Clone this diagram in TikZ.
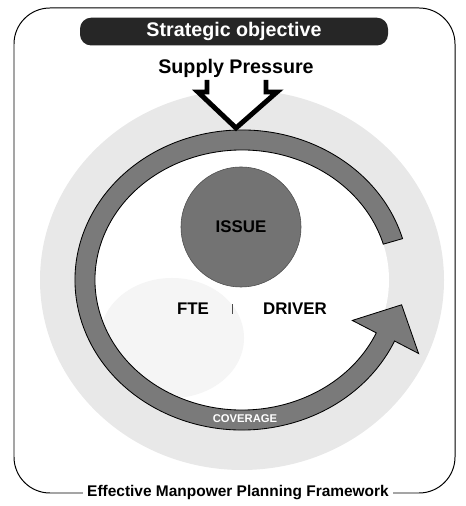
\documentclass[tikz,border=0pt]{standalone}
\usepackage{fontspec}
\setmainfont{Liberation Sans}
\usepackage{tikz}
\usetikzlibrary{positioning}

\tikzset{
	word/.style={font=\fontsize{12}{14}\selectfont\bfseries},
	bigword/.style={font=\fontsize{14}{16}\selectfont\bfseries},
	banner/.style={fill=black!85, text=white, rounded corners=0.28cm, minimum width=7.7cm, minimum height=0.58cm},
	grayband/.style={fill=black!52, draw=black, line width=0.6pt},
	halo/.style={fill=black!9},
	frameline/.style={line width=0.7pt, rounded corners=0.9cm}
}

\begin{document}
\begin{tikzpicture}
			\useasboundingbox (0,0) rectangle (11.625,12.65);
			
			\draw[frameline] (0.35,0.325) rectangle (11.375,12.45);
			
			% dotted halo and the inside of the ring
			\coordinate (c) at (6.05,5.65);
			\fill[halo] (c) ellipse (5.05cm and 4.75cm);
			\fill[white] (c) ellipse (3.675cm and 3.25cm);
			\fill[black!4] (4.3,4.2) ellipse (1.8cm and 1.5cm);
			
			% the grey ring with its head
			\filldraw[grayband] (c) ++(16:4.175cm and 3.75cm)
				arc[start angle=16, end angle=336, x radius=4.175cm, y radius=3.75cm]
				-- (10.464,3.813) -- (10.04,5.03) -- (8.808,4.639) -- (9.407,4.328)
				arc[start angle=336, end angle=16, x radius=3.675cm, y radius=3.25cm]
				-- cycle;
			
			\node[banner, bigword] (obj) at (5.85,11.86) {Strategic objective};
			\node[bigword] (supply) at (5.9,10.95) {Supply Pressure};
			
			% open arrow down onto the ring
			\filldraw[fill=white, line width=3.5pt, line join=miter]
				(5.175,10.65) -- (5.175,10.35) -- (4.95,10.35) -- (5.9,9.45)
				-- (6.925,10.35) -- (6.65,10.35) -- (6.65,10.65);
			
			\node[circle, fill=black!55, draw=black!70, minimum size=3cm, word] (issue) at (6.025,6.975) {ISSUE};
			
			\node[word] (fte) at (4.825,4.925) {FTE};
			\node[word] (driver) at (7.375,4.925) {DRIVER};
			\draw[black!70, line width=0.6pt] (5.8,4.8) -- (5.8,5.05);
			
			\node[text=white, font=\fontsize{8}{9}\selectfont\bfseries] (cover) at (6.125,2.175) {COVERAGE};
			
			\node[fill=white, inner xsep=3pt, font=\fontsize{11}{13}\selectfont\bfseries] (title) at (5.95,0.325) {Effective Manpower Planning Framework};
			
		\end{tikzpicture}
\end{document}
